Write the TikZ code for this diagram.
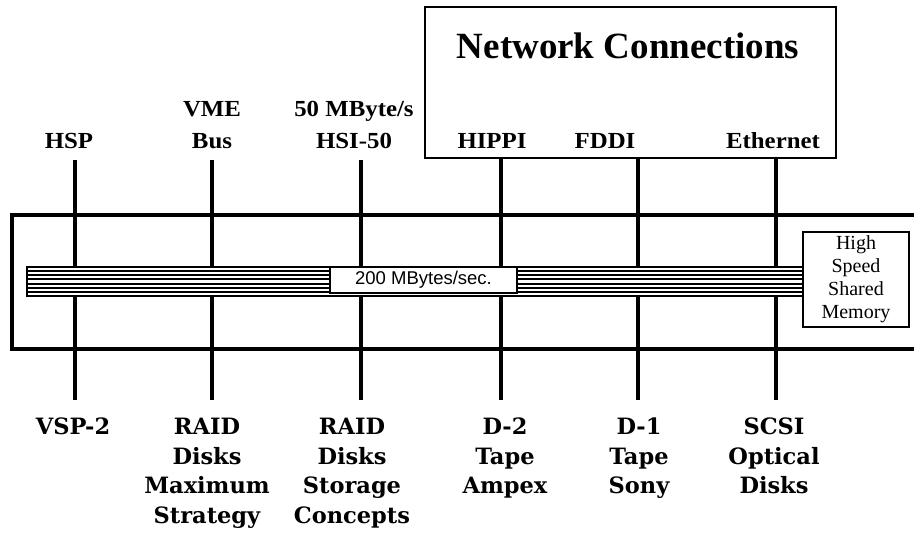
\documentclass[tikz,border=0pt]{standalone}
\usepackage{fontspec}
\setmainfont{Liberation Serif}
\setsansfont{Liberation Sans}
\newfontfamily\toplabfont{Liberation Serif}[FakeStretch=1.08]
\newfontfamily\botlabfont{DejaVu Serif}
\usetikzlibrary{positioning}
\tikzset{
toplabel/.style={anchor=south,inner sep=0pt,align=center,font=\toplabfont\bfseries\fontsize{23}{32}\selectfont},
botlabel/.style={anchor=north,inner sep=0pt,align=center,font=\botlabfont\bfseries\fontsize{22.5}{29.5}\selectfont},
link/.style={line width=3.2pt},
frame/.style={line width=3.2pt},
netbox/.style={draw,line width=2pt,minimum width=411pt,minimum height=151pt},
membox/.style={draw,line width=2pt,fill=white,minimum width=106pt,minimum height=95pt,inner sep=0pt,align=center,font=\fontsize{20}{23}\selectfont},
busbar/.style={draw,line width=2pt,fill=white,minimum width=776pt,minimum height=29pt,inner sep=0pt},
ratebox/.style={draw,line width=1.8pt,fill=white,minimum width=187pt,minimum height=26pt,inner sep=0pt,font=\sffamily\fontsize{18.5}{20}\selectfont},
stripe/.style={line width=2pt}
}
\begin{document}
\begin{tikzpicture}[x=1pt,y=-1pt]
\useasboundingbox (0,0) rectangle (914,533);
% outer frame, open on the right
\draw[frame] (918,215) -| (12,349) -- (918,349);

\node[netbox] (net) at (630.5,82.5) {};
\node[font=\bfseries\fontsize{37}{40}\selectfont] (nettitle) at (628,46) {Network Connections};

% top side
\node[toplabel] (hsp) at (69,149) {HSP};
\node[toplabel] (vme) at (212,149) {VME\\Bus};
\node[toplabel] (hsi) at (354,149) {50 MByte/s\\HSI-50};
\node[toplabel] (hippi) at (492,149) {HIPPI};
\node[toplabel] (fddi) at (605,149) {FDDI};
\node[toplabel] (ether) at (773,149) {Ethernet};

\coordinate (hsp-top) at (75,160);
\coordinate (vme-top) at (212,160);
\coordinate (hsi-top) at (361,160);
\coordinate (hippi-top) at (501,158);
\coordinate (fddi-top) at (638,158);
\coordinate (ether-top) at (776,158);

% the bus
\node[busbar] (bus) at (415,281.5) {};
\draw[stripe] (bus.west |- 0,271) -- (bus.east |- 0,271);
\draw[stripe] (bus.west |- 0,275) -- (bus.east |- 0,275);
\draw[stripe] (bus.west |- 0,279) -- (bus.east |- 0,279);
\draw[stripe] (bus.west |- 0,283.5) -- (bus.east |- 0,283.5);
\draw[stripe] (bus.west |- 0,287.5) -- (bus.east |- 0,287.5);
\draw[stripe] (bus.west |- 0,291.5) -- (bus.east |- 0,291.5);
\node[ratebox] (rate) at (423.5,280) {200 MBytes/sec.};
\node[membox] (mem) at (856,279.5) {High\\Speed\\Shared\\Memory};

\draw[link] (hsp-top) -- (hsp-top |- bus.north);
\draw[link] (vme-top) -- (vme-top |- bus.north);
\draw[link] (hsi-top) -- (hsi-top |- bus.north);
\draw[link] (hippi-top) -- (hippi-top |- bus.north);
\draw[link] (fddi-top) -- (fddi-top |- bus.north);
\draw[link] (ether-top) -- (ether-top |- bus.north);

% bottom side
\coordinate (vsp-end) at (75,400);
\coordinate (raid1-end) at (212,400);
\coordinate (raid2-end) at (361,400);
\coordinate (d2-end) at (501,400);
\coordinate (d1-end) at (638,400);
\coordinate (scsi-end) at (776,400);

\draw[link] (vsp-end |- bus.south) -- (vsp-end);
\draw[link] (raid1-end |- bus.south) -- (raid1-end);
\draw[link] (raid2-end |- bus.south) -- (raid2-end);
\draw[link] (d2-end |- bus.south) -- (d2-end);
\draw[link] (d1-end |- bus.south) -- (d1-end);
\draw[link] (scsi-end |- bus.south) -- (scsi-end);

\node[botlabel] (vsp) at (73,418) {VSP-2};
\node[botlabel] (raid1) at (207,418) {RAID\\Disks\\Maximum\\Strategy};
\node[botlabel] (raid2) at (352,418) {RAID\\Disks\\Storage\\Concepts};
\node[botlabel] (d2) at (505,418) {D-2\\Tape\\Ampex};
\node[botlabel] (d1) at (639,418) {D-1\\Tape\\Sony};
\node[botlabel] (scsi) at (774,418) {SCSI\\Optical\\Disks};
\end{tikzpicture}
\end{document}
